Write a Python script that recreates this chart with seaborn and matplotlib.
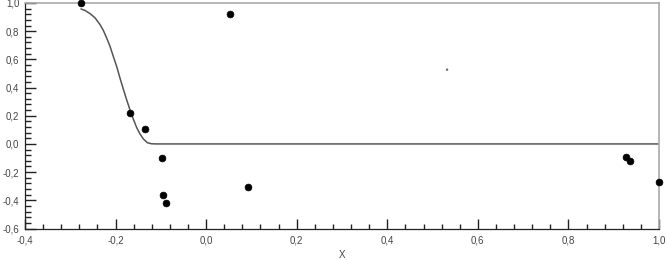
import matplotlib
matplotlib.use("Agg")
import matplotlib.pyplot as plt
from matplotlib.ticker import MultipleLocator, FuncFormatter
import seaborn as sns
import pandas as pd

# measured points
pts_x = [-0.276, -0.168, -0.135, -0.097, -0.095, -0.089, 0.053, 0.092, 0.927, 0.936, 1.0]
pts_y = [1.0, 0.22, 0.107, -0.10, -0.363, -0.42, 0.925, -0.306, -0.093, -0.12, -0.27]

# the lone small dot
dot_x = [0.532]
dot_y = [0.527]

# fitted curve
curve_x = [-0.2764, -0.2675, -0.2565, -0.2454, -0.2344, -0.2271, -0.2197, -0.2123,
           -0.2050, -0.1976, -0.1902, -0.1829, -0.1755, -0.1682, -0.1608, -0.1534,
           -0.1461, -0.1388, -0.1300, -0.1203, -0.109, 1.0]
curve_y = [0.958, 0.947, 0.925, 0.895, 0.847, 0.806, 0.752, 0.693,
           0.621, 0.550, 0.467, 0.389, 0.313, 0.242, 0.176, 0.116,
           0.071, 0.036, 0.009, 0.001, 0.0, 0.0]

sns.set_style("ticks")
plt.rcParams['font.family'] = ['Liberation Sans', 'DejaVu Sans']

fig = plt.figure(figsize=(6.68, 2.6), dpi=100)
ax = fig.add_axes([25 / 668, 1 - 228.5 / 260, 634 / 668, 225.5 / 260])

curve = pd.DataFrame({"x": curve_x, "y": curve_y})
sns.lineplot(data=curve, x="x", y="y", sort=False, estimator=None,
             color="#555555", lw=1.1, ax=ax)

pts = pd.DataFrame({"x": pts_x, "y": pts_y})
sns.scatterplot(data=pts, x="x", y="y", color="black", s=24, edgecolor="black",
                linewidth=0.5, clip_on=False, zorder=5, ax=ax)
sns.scatterplot(x=dot_x, y=dot_y, color="#666666", s=3, edgecolor="none", ax=ax)

ax.set_xlim(-0.4, 1.0)
ax.set_ylim(-0.6, 1.0)

ax.xaxis.set_major_locator(MultipleLocator(0.2))
ax.xaxis.set_minor_locator(MultipleLocator(0.04))
ax.yaxis.set_major_locator(MultipleLocator(0.2))
ax.yaxis.set_minor_locator(MultipleLocator(0.04))

comma = FuncFormatter(lambda v, p: f"{v:.1f}".replace(".", ",").replace("-0,0", "0,0"))
ax.xaxis.set_major_formatter(comma)
ax.yaxis.set_major_formatter(comma)

ax.tick_params(axis="x", which="major", direction="in", length=7, width=1.0,
               color="#222222", pad=5, labelsize=7, labelcolor="#444444")
ax.tick_params(axis="x", which="minor", direction="in", length=3.5, width=1.0,
               color="#222222")
ax.tick_params(axis="y", which="major", direction="in", length=8, width=1.0,
               color="#222222", pad=4, labelsize=7, labelcolor="#444444")
ax.tick_params(axis="y", which="minor", direction="in", length=4, width=1.0,
               color="#222222")

for s in ["left", "bottom"]:
    ax.spines[s].set_color("#222222")
    ax.spines[s].set_linewidth(0.9)
for s in ["top", "right"]:
    ax.spines[s].set_visible(True)
    ax.spines[s].set_color("#aaaaaa")
    ax.spines[s].set_linewidth(1.2)

ax.set_xlabel("X", fontsize=7, color="#444444", labelpad=3)
ax.set_ylabel("")

fig.savefig("out.png", dpi=100)
